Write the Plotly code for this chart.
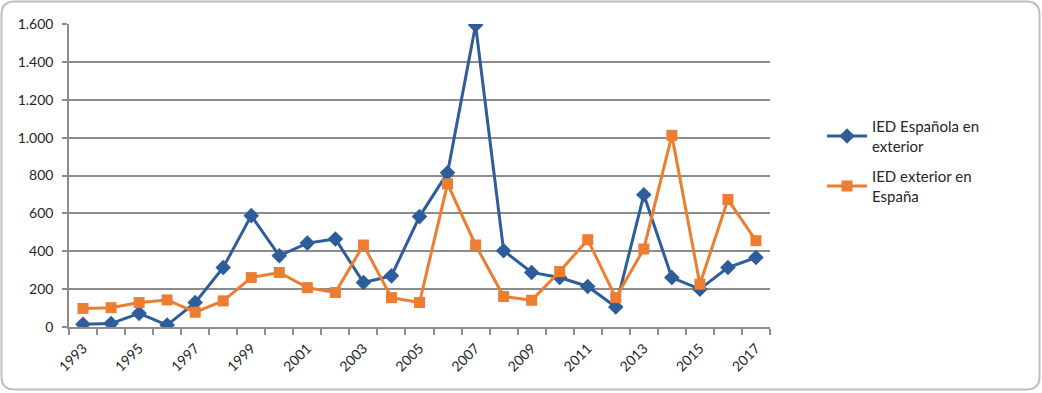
import plotly.graph_objects as go

years = list(range(1993, 2018))
ied_espanola_exterior = [14, 18, 72, 10, 129, 314, 588, 376, 443, 465, 235, 270, 583, 814,
                         1595, 403, 288, 261, 214, 106, 698, 261, 200, 314, 367]
ied_exterior_espana = [98, 102, 129, 143, 78, 138, 261, 288, 208, 182, 433, 155, 129, 756,
                       433, 161, 141, 293, 461, 155, 412, 1012, 226, 673, 456]
series_names = ["IED Española en<br>exterior", "IED exterior en<br>España"]
label_years = [y for y in years if (y - 1993) % 2 == 0]

W, H = 1042, 393
L, R, T, B = 69, 770, 24, 327
pw, ph = R - L, B - T

def px(x):
    return (x - L) / pw

def py(y):
    return (B - y) / ph

idx = list(range(len(years)))

fig = go.Figure()
fig.add_trace(go.Scatter(
    x=idx, y=ied_espanola_exterior, name=series_names[0], mode="lines+markers",
    legendgroup="a",
    line=dict(color="#2F5D9B", width=3),
    marker=dict(symbol="diamond", size=12, color="#2F5D9B"),
))
fig.add_trace(go.Scatter(
    x=idx, y=ied_exterior_espana, name=series_names[1], mode="lines+markers",
    legendgroup="b",
    line=dict(color="#ED7D31", width=3),
    marker=dict(symbol="square", size=11, color="#ED7D31"),
))

# rounded border
x0, y0, x1, y1, r = 1.5, 1.5, 1039.5, 389.5, 13
path = (
    f"M {px(x0 + r)},{py(y0)} L {px(x1 - r)},{py(y0)} "
    f"Q {px(x1)},{py(y0)} {px(x1)},{py(y0 + r)} "
    f"L {px(x1)},{py(y1 - r)} Q {px(x1)},{py(y1)} {px(x1 - r)},{py(y1)} "
    f"L {px(x0 + r)},{py(y1)} Q {px(x0)},{py(y1)} {px(x0)},{py(y1 - r)} "
    f"L {px(x0)},{py(y0 + r)} Q {px(x0)},{py(y0)} {px(x0 + r)},{py(y0)} Z"
)
fig.add_shape(type="path", path=path, xref="paper", yref="paper",
              line=dict(color="#BEBEBE", width=2), layer="below")

fig.update_layout(
    width=W, height=H,
    margin=dict(l=L, r=W - R, t=T, b=H - B),
    paper_bgcolor="white", plot_bgcolor="white",
    separators=",.",
    font=dict(family="Lato, 'Open Sans', sans-serif", size=14, color="#262626"),
    showlegend=True,
    legend=dict(x=px(822), y=py(110), xanchor="left", yanchor="top",
                font=dict(size=15, color="#262626"), itemwidth=40,
                tracegroupgap=8, bgcolor="rgba(0,0,0,0)"),
    xaxis=dict(
        range=[-0.5, len(years) - 0.5],
        tickmode="array",
        tickvals=[years.index(y) for y in label_years],
        ticktext=[str(y) for y in label_years],
        tickangle=-45, ticks="",
        ticklabelstandoff=6,
        showgrid=False, zeroline=False,
        showline=True, linecolor="#8C8C8C", linewidth=1.5,
        minor=dict(tick0=-0.5, dtick=1, ticks="outside", ticklen=6,
                   tickcolor="#8C8C8C", tickwidth=1.5, showgrid=False),
        tickfont=dict(size=14, color="#262626"),
    ),
    yaxis=dict(
        range=[0, 1600], dtick=200, tickformat=",d", separatethousands=True,
        showgrid=True, gridcolor="#8C8C8C", gridwidth=1.5,
        zeroline=False,
        showline=True, linecolor="#8C8C8C", linewidth=1.5,
        ticks="outside", ticklen=5, tickcolor="#8C8C8C", tickwidth=1.5,
        ticklabelstandoff=6,
        tickfont=dict(size=14, color="#262626"),
    ),
)

fig.write_html("out.html", config={"displayModeBar": False},
               post_script="document.body.style.margin='0';document.body.style.overflow='hidden';")
